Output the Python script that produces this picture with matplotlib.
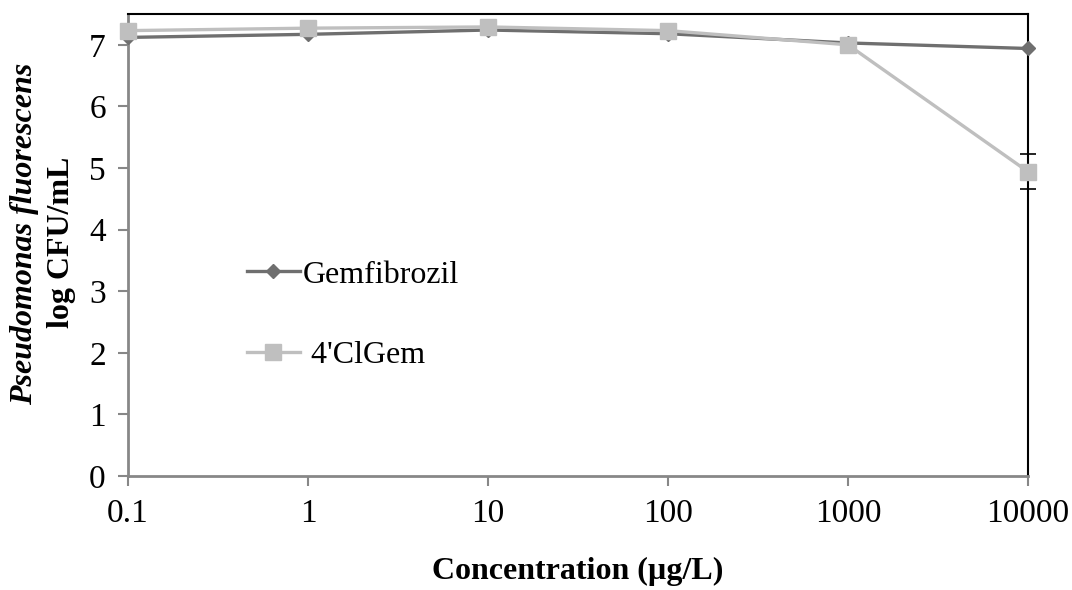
import numpy as np
import matplotlib.pyplot as plt

plt.rcParams['font.family'] = ['Liberation Serif', 'DejaVu Serif']

conc = [0.1, 1, 10, 100, 1000, 10000]
conc_labels = ["0.1", "1", "10", "100", "1000", "10000"]
gemfibrozil = [7.12, 7.17, 7.24, 7.18, 7.03, 6.94]
clgem = [7.23, 7.27, 7.29, 7.23, 7.00, 4.94]
clgem_err = [0.0, 0.0, 0.0, 0.0, 0.0, 0.28]

fig = plt.figure(figsize=(10.72, 5.9), dpi=100)
ax = fig.add_axes([128 / 1072, 1 - 476 / 590, 900 / 1072, 462 / 590])

ax.plot(conc, gemfibrozil, color="#6f6f6f", lw=2.4, marker="D", ms=7,
        label="Gemfibrozil", clip_on=False, zorder=4)
ax.plot(conc, clgem, color="#bfbfbf", lw=2.4, marker="s", ms=12,
        label=" 4'ClGem", clip_on=False, zorder=5)

# error bars only where there is a spread to show
err = np.array(clgem_err)
has_err = err > 0
ax.errorbar(np.array(conc)[has_err], np.array(clgem)[has_err], yerr=err[has_err],
            fmt="none", ecolor="black", elinewidth=1.2, capsize=6, capthick=1.2,
            clip_on=False, zorder=3)

ax.set_xscale("log")
ax.set_xlim(0.1, 10000)
ax.set_ylim(0, 7.5)
ax.set_xticks(conc)
ax.set_xticklabels(conc_labels)
ax.minorticks_off()
ax.set_yticks(range(8))
ax.tick_params(labelsize=24, color="#878787", width=1.5, length=7, pad=9)

for side in ("top", "right"):
    ax.spines[side].set_color("black")
    ax.spines[side].set_linewidth(1.5)
for side in ("left", "bottom"):
    ax.spines[side].set_color("#878787")
    ax.spines[side].set_linewidth(2)

ax.set_xlabel("Concentration (µg/L)", fontsize=23, fontweight="bold", labelpad=20)

fig.text(25 / 1072, 1 - 234 / 590, "Pseudomonas fluorescens", rotation=90,
         fontsize=23, fontweight="bold", fontstyle="italic", ha="center", va="center")
fig.text(61 / 1072, 1 - 242 / 590, "log CFU/mL", rotation=90,
         fontsize=23, fontweight="bold", ha="center", va="center")

h, l = ax.get_legend_handles_labels()
ax.legend(h, l, loc="center left", bbox_to_anchor=(0.132, 0.348), frameon=False,
          fontsize=23, handlelength=1.65, handletextpad=0.1, labelspacing=1.6,
          borderaxespad=0, borderpad=0)

fig.savefig("out.png", dpi=100)
